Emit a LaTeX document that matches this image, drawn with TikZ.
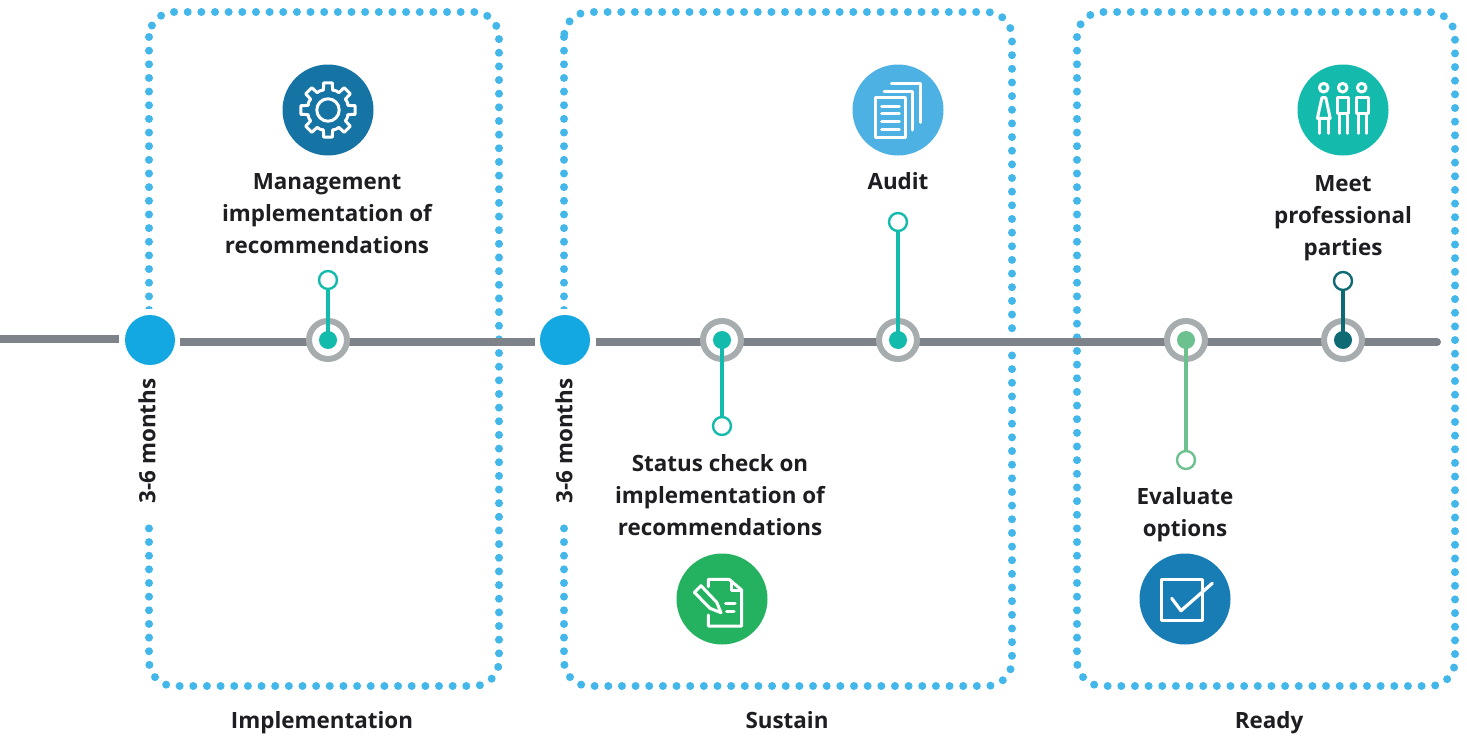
\documentclass[tikz,border=0pt]{standalone}
\usepackage{fontspec}
\setmainfont{Open Sans}
\definecolor{dotblue}{HTML}{43B7EA}
\definecolor{bigblue}{HTML}{13A8E2}
\definecolor{linegray}{HTML}{7E8389}
\definecolor{ringgray}{HTML}{A7ACAE}
\definecolor{teal1}{HTML}{12BBAB}
\definecolor{green1}{HTML}{6CC18F}
\definecolor{dteal}{HTML}{0F6B73}
\definecolor{gearblue}{HTML}{1574A3}
\definecolor{auditblue}{HTML}{4DB1E4}
\definecolor{meetteal}{HTML}{14BBAC}
\definecolor{statusgreen}{HTML}{25B260}
\definecolor{evalblue}{HTML}{187DB5}
\definecolor{txt}{HTML}{1D1D22}
\tikzset{
 x=1pt,y=-1pt,
 dotbox/.style={draw=dotblue,line width=8pt,line cap=round,dash pattern=on 0pt off 13.65pt,rounded corners=25pt},
 tl/.style={line width=8pt,draw=linegray},
 bigdot/.style={circle,fill=bigblue,minimum size=50pt,inner sep=0pt},
 ringn/.style={circle,draw=ringgray,fill=white,line width=6pt,minimum size=38pt,inner sep=0pt},
 corec/.style={circle,minimum size=18pt,inner sep=0pt},
 endc/.style={circle,fill=white,line width=2.4pt,minimum size=18pt,inner sep=0pt},
 stem/.style={line width=3.4pt},
 lab/.style={text=txt,font=\fontsize{22.4}{32}\selectfont\bfseries,align=center,inner sep=0pt},
 iconc/.style={circle,minimum size=91pt,inner sep=0pt},
 ico/.style={draw=white,line width=3pt,line join=round,line cap=round},
}
\begin{document}
\begin{tikzpicture}
\useasboundingbox (0,0) rectangle (1467,736);
% boxes
\draw[dotbox] (149,12) rectangle (499,686);
\draw[dotbox] (564,12) rectangle (1012,686);
\draw[dotbox] (1077,12) rectangle (1455,686);
% gaps in the dotted edges
\fill[white] (130,309) rectangle (170,521);
\fill[white] (545,309) rectangle (585,521);
% timeline
\coordinate (l0) at (0,339);
\coordinate (l1) at (119,339);
\coordinate (m0) at (180,342);
\coordinate (m1) at (535,342);
\coordinate (n0) at (600,342);
\coordinate (n1) at (1437,342);
\draw[tl] (l0) -- (l1);
\draw[tl] (m0) -- (m1);
\draw[tl] (596,342) -- (n0);
\draw[tl,line cap=round] (n0) -- (n1);
\node[bigdot] (b1) at (150,340) {};
\node[bigdot] (b2) at (565,340) {};
\node[lab,rotate=90] (m3a) at (147,441) {3-6 months};
\node[lab,rotate=90] (m3b) at (564,441) {3-6 months};
% milestones
\foreach \n/\x/\ey/\c in {a/328/280/teal1,b/722/426/teal1,c/898/222/teal1,d/1186/460/green1,e/1343/281/dteal}{
  \node[ringn] (r\n) at (\x,340) {};
  \node[corec,fill=\c] (c\n) at (\x,340) {};
  \node[endc,draw=\c] (e\n) at (\x,\ey) {};
  \draw[stem,draw=\c] (c\n.center) -- (e\n);
}
% labels
\node[lab] (t1) at (327,214) {Management\\implementation of\\recommendations};
\node[lab] (t2) at (720,495) {Status check on\\implementation of\\recommendations};
\node[lab] (t3) at (898,181) {Audit};
\node[lab] (t4) at (1185,515) {Evaluate\\options};
\node[lab] (t5) at (1343,218) {Meet\\professional\\parties};
\node[lab] (s1) at (322,723) {Implementation};
\node[lab] (s2) at (787,720) {Sustain};
\node[lab] (s3) at (1269,723) {Ready};
% icon discs
\node[iconc,fill=gearblue] (i1) at (328,110) {};
\node[iconc,fill=auditblue] (i2) at (898,110) {};
\node[iconc,fill=meetteal] (i3) at (1343,110) {};
\node[iconc,fill=statusgreen] (i4) at (722,599) {};
\node[iconc,fill=evalblue] (i5) at (1185,599) {};
% gear
\begin{scope}[shift={(328,110)}]
 \draw[ico] (0,0) circle[radius=11.2];
 \foreach \a in {0,45,...,315}{
   \draw[ico] ({\a+13}:20.5) -- ({\a+22.5}:20.8) -- ({\a+32}:20.5)
     -- ({\a+36}:27.5) -- ({\a+54}:27.5) -- ({\a+58}:20.5);
 }
\end{scope}
% documents
\draw[ico] (875.7,97.7) rectangle (905.3,137.7);
\foreach \y in {106,113.7,121.3,129}{\draw[ico] (881.7,\y) -- (899.3,\y);}
\draw[ico] (884,91) -- (912,91) -- (912,130);
\draw[ico] (891.3,83.3) -- (920,83.3) -- (920,122.3);
% people
\foreach \x in {1323.7,1342.7,1361.7}{\draw[ico] (\x,87.7) circle[radius=4.3];}
\draw[ico] (1321.9,97.7) -- (1325.8,97.7) -- (1330.2,118.3) -- (1317.4,118.3) -- cycle;
\draw[ico] (1319.7,118.3) -- (1319.7,133.3) (1328,118.3) -- (1328,133.3);
\draw[ico] (1337.3,97.7) rectangle (1348.3,113.3);
\draw[ico] (1339.3,113.3) -- (1339.3,133.3) (1347.5,113.3) -- (1347.5,133.3);
\draw[ico] (1356,97.7) rectangle (1368,113.3);
\draw[ico] (1358,113.3) -- (1358,133.3) (1366,113.3) -- (1366,133.3);
% status document
\draw[ico] (708.3,586.7) -- (708.3,579.3) -- (729,579.3) -- (741.7,590) -- (741.7,626) -- (708.3,626) -- (708.3,615);
\draw[ico] (731,581) -- (731,590) -- (741.7,590);
\draw[ico] (694.3,592.3) -- (701,585.7) -- (716.7,602.3) -- (721,612.7) -- (710,608.3) -- cycle;
\draw[ico] (725.7,603.3) -- (735,603.3) (726.7,611.7) -- (734,611.7);
% check box
\draw[ico] (1161.7,579.3) rectangle (1202.7,620);
\draw[ico,line width=3.2pt] (1171.7,598.3) -- (1181,610.7) -- (1212.3,583.3);
\end{tikzpicture}
\end{document}
